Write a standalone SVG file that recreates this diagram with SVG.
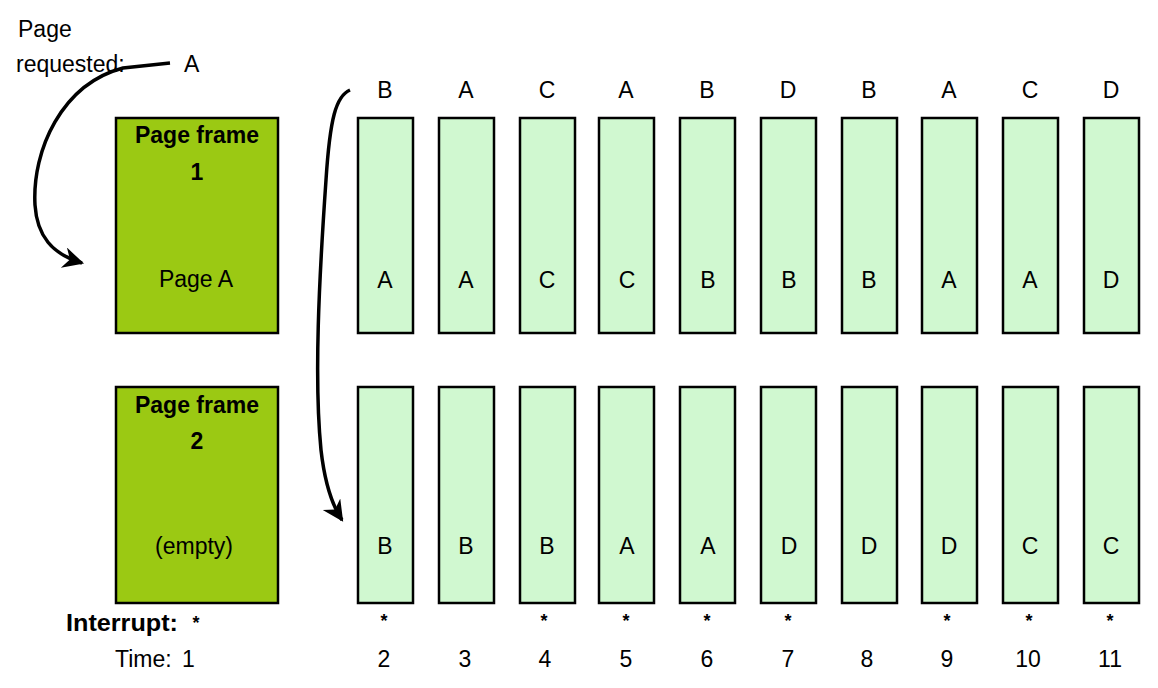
<svg xmlns="http://www.w3.org/2000/svg" width="1158" height="688" viewBox="0 0 1158 688">
<style>
text{font-family:"Liberation Sans",Arial,sans-serif;fill:#000;}
.t{font-size:23px;}
.c{font-size:23px;text-anchor:middle;}
.b{font-size:23px;font-weight:bold;text-anchor:middle;}
.s{font-size:18px;font-weight:bold;text-anchor:middle;}
.frame{fill:#9BC913;stroke:#000;stroke-width:2.5;}
.col{fill:#D0F8D0;stroke:#000;stroke-width:2.5;}
.arrow{fill:none;stroke:#000;stroke-width:3.5;}
</style>
<defs>
<marker id="ah" viewBox="0 0 10 10" refX="9" refY="5" markerWidth="7.5" markerHeight="6" orient="auto" markerUnits="strokeWidth">
<path d="M0,0 L10,5 L0,10 L3,5 z" fill="#000"/>
</marker>
</defs>
<rect width="1158" height="688" fill="#fff"/>
<g id="labels">
<text class="t" x="18" y="37">Page</text>
<text class="t" x="16" y="72">requested:</text>
<text class="t" x="184" y="72">A</text>
<text x="66" y="631" font-size="23" font-weight="bold" textLength="112" lengthAdjust="spacingAndGlyphs">Interrupt:</text>
<text class="s" x="196" y="629">*</text>
<text class="t" x="115" y="667">Time:</text>
<text class="t" x="182" y="667">1</text>
</g>
<g id="frame1">
<rect class="frame" x="116" y="118" width="162" height="215"/>
<text class="b" x="197" y="143">Page frame</text>
<text class="b" x="197" y="180">1</text>
<text class="c" x="196" y="287">Page A</text>
</g>
<g id="frame2">
<rect class="frame" x="116" y="387" width="162" height="216"/>
<text class="b" x="197" y="413">Page frame</text>
<text class="b" x="197" y="449">2</text>
<text class="c" x="194" y="554">(empty)</text>
</g>
<g id="col2"><text class="c" x="385" y="98">B</text><rect class="col" x="358" y="118" width="55" height="215"/><text class="c" x="385" y="288">A</text><rect class="col" x="358" y="387" width="55" height="216"/><text class="c" x="385" y="554">B</text><text class="s" x="384" y="627">*</text><text class="c" x="384" y="667">2</text></g>
<g id="col3"><text class="c" x="466" y="98">A</text><rect class="col" x="439" y="118" width="55" height="215"/><text class="c" x="466" y="288">A</text><rect class="col" x="439" y="387" width="55" height="216"/><text class="c" x="466" y="554">B</text><text class="c" x="465" y="667">3</text></g>
<g id="col4"><text class="c" x="547" y="98">C</text><rect class="col" x="520" y="118" width="55" height="215"/><text class="c" x="547" y="288">C</text><rect class="col" x="520" y="387" width="55" height="216"/><text class="c" x="547" y="554">B</text><text class="s" x="544" y="627">*</text><text class="c" x="545" y="667">4</text></g>
<g id="col5"><text class="c" x="626" y="98">A</text><rect class="col" x="599" y="118" width="55" height="215"/><text class="c" x="627" y="288">C</text><rect class="col" x="599" y="387" width="55" height="216"/><text class="c" x="627" y="554">A</text><text class="s" x="626" y="627">*</text><text class="c" x="626" y="667">5</text></g>
<g id="col6"><text class="c" x="707" y="98">B</text><rect class="col" x="680" y="118" width="55" height="215"/><text class="c" x="708" y="288">B</text><rect class="col" x="680" y="387" width="55" height="216"/><text class="c" x="708" y="554">A</text><text class="s" x="707" y="627">*</text><text class="c" x="707" y="667">6</text></g>
<g id="col7"><text class="c" x="788" y="98">D</text><rect class="col" x="761" y="118" width="55" height="215"/><text class="c" x="789" y="288">B</text><rect class="col" x="761" y="387" width="55" height="216"/><text class="c" x="789" y="554">D</text><text class="s" x="788" y="627">*</text><text class="c" x="788" y="667">7</text></g>
<g id="col8"><text class="c" x="869" y="98">B</text><rect class="col" x="842" y="118" width="55" height="215"/><text class="c" x="869" y="288">B</text><rect class="col" x="842" y="387" width="55" height="216"/><text class="c" x="869" y="554">D</text><text class="c" x="867" y="667">8</text></g>
<g id="col9"><text class="c" x="949" y="98">A</text><rect class="col" x="922" y="118" width="55" height="215"/><text class="c" x="949" y="288">A</text><rect class="col" x="922" y="387" width="55" height="216"/><text class="c" x="949" y="554">D</text><text class="s" x="947" y="627">*</text><text class="c" x="947" y="667">9</text></g>
<g id="col10"><text class="c" x="1030" y="98">C</text><rect class="col" x="1003" y="118" width="55" height="215"/><text class="c" x="1030" y="288">A</text><rect class="col" x="1003" y="387" width="55" height="216"/><text class="c" x="1030" y="554">C</text><text class="s" x="1029" y="627">*</text><text class="c" x="1028" y="667">10</text></g>
<g id="col11"><text class="c" x="1111" y="98">D</text><rect class="col" x="1084" y="118" width="55" height="215"/><text class="c" x="1111" y="288">D</text><rect class="col" x="1084" y="387" width="55" height="216"/><text class="c" x="1111" y="554">C</text><text class="s" x="1110" y="627">*</text><text class="c" x="1110" y="667">11</text></g>
<g id="connectors">
<path class="arrow" d="M170,63 L123,68 C62,84 32,150 35,205 C37,236 52,254 82,263" marker-end="url(#ah)"/>
<path class="arrow" d="M350,90 C336,96 330,118 326,180 C319,280 314,380 321,450 C325,485 332,505 342,520" marker-end="url(#ah)"/>
</g>
</svg>
